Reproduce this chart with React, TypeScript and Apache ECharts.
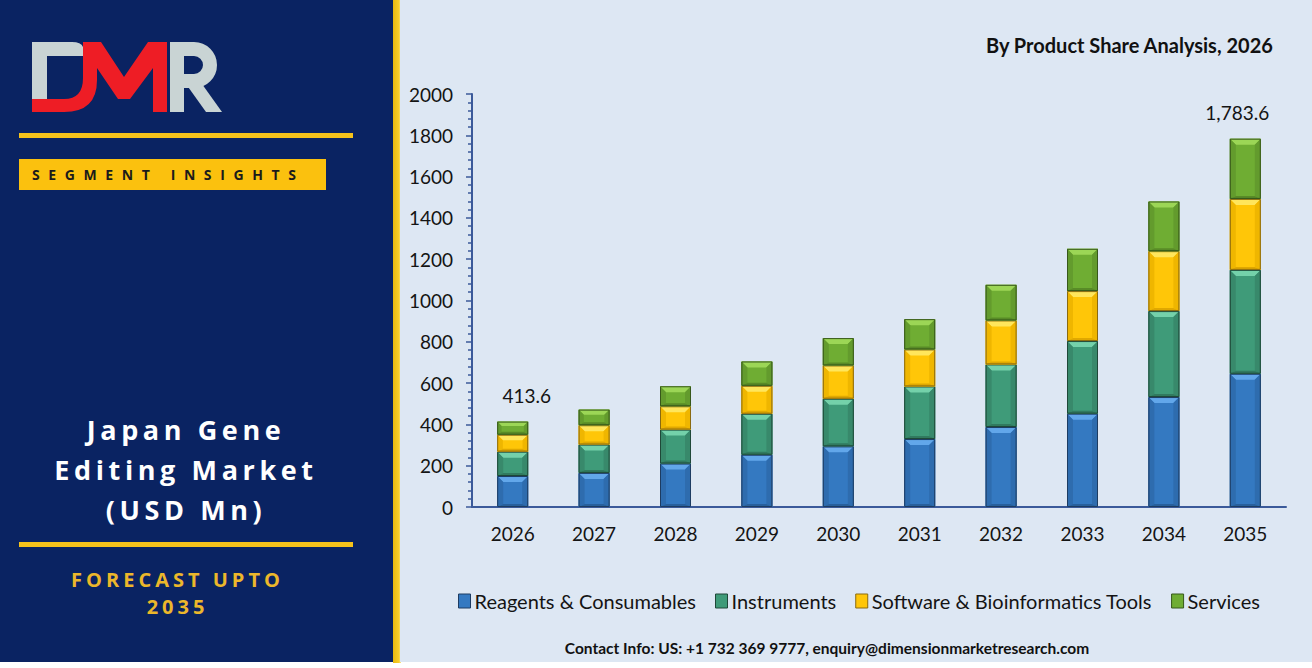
import React, { useEffect, useRef } from "react";
import * as echarts from "echarts";

// Japan gene editing market by product (USD Mn)
const years = ["2026", "2027", "2028", "2029", "2030", "2031", "2032", "2033", "2034", "2035"];
const reagents = [150.0, 165.2, 210.4, 253.1, 293.6, 329.0, 387.3, 452.0, 532.5, 645.2];
const instruments = [118.0, 137.1, 164.5, 198.4, 230.7, 254.9, 303.2, 351.6, 416.2, 503.1];
const software = [82.0, 93.6, 112.9, 135.5, 161.3, 179.0, 212.9, 241.9, 290.3, 343.6];
const services = [63.6, 75.8, 96.8, 117.7, 132.3, 146.8, 172.6, 204.8, 240.4, 291.7];
const segmentNames = ["Reagents & Consumables", "Instruments", "Software & Bioinformatics Tools", "Services"];
const yMin = 0;
const yMax = 2000;
const yStep = 200;
const labelledYears = [0, 9];

const segments = [reagents, instruments, software, services];

const palette = [
  { body: "#3479c1", light: "#62a7ea", side: "#2e6cae", dark: "#28609c", edge: "#1d3c62" },
  { body: "#3f9b79", light: "#74d1aa", side: "#38896b", dark: "#317a5f", edge: "#1f4838" },
  { body: "#ffc608", light: "#ffe65c", side: "#efb600", dark: "#e0a800", edge: "#8a6a10" },
  { body: "#6fad33", light: "#9cd656", side: "#639b2d", dark: "#588b27", edge: "#37581a" },
];

const totals = years.map((_, i) => segments.reduce((s, arr) => s + arr[i], 0));
const fmtTotal = (v: number) =>
  v.toLocaleString("en-US", { minimumFractionDigits: 1, maximumFractionDigits: 1 });

const NAVY = "#0a2362";
const GOLD = "#f5c21b";
const LOGO_GREY = "#c9d4d4";
const LOGO_RED = "#ee1d25";

function Logo() {
  return (
    <svg width={393} height={130} style={{ position: "absolute", left: 0, top: 0 }}>
      {/* D: grey stem and top bar */}
      <rect x={32} y={42} width={15} height={58} fill={LOGO_GREY} />
      <path d="M32 42 H72 Q81 42 83 47 V56 H32 Z" fill={LOGO_GREY} />
      {/* red sweep: base of the D flowing into the M */}
      <path
        d="M32 99 H64 Q83 99 83 78 V42 H101 L124 77 L148 42 H167 V112 H153 V68 L130 99 H118 L97 68 V80 Q97 112 64 112 H32 Z"
        fill={LOGO_RED}
      />
      {/* R */}
      <path d="M177 112 V49 H194 A 16 16 0 0 1 194 81 H184" fill="none" stroke={LOGO_GREY} strokeWidth={14} />
      <path d="M186 84 H202 L222 112 H206 Z" fill={LOGO_GREY} />
    </svg>
  );
}

function SidePanel() {
  const base: React.CSSProperties = { position: "absolute", fontFamily: "'Open Sans', sans-serif", fontWeight: 700 };
  return (
    <div style={{ position: "absolute", left: 0, top: 0, width: 393, height: 662, background: NAVY }}>
      <Logo />
      <div style={{ position: "absolute", left: 19, top: 133, width: 334, height: 5, background: GOLD }} />
      <div
        style={{
          position: "absolute",
          left: 19,
          top: 159,
          width: 307,
          height: 31,
          background: "#fbc10e",
        }}
      >
        <div
          style={{
            ...base,
            left: 13,
            top: 0,
            fontSize: 14,
            lineHeight: "31px",
            letterSpacing: "8.6px",
            color: "#1b1b1b",
            whiteSpace: "nowrap",
          }}
        >
          SEGMENT INSIGHTS
        </div>
      </div>
      <div
        style={{
          ...base,
          left: 2,
          top: 410,
          width: 368,
          textAlign: "center",
          color: "#ffffff",
          fontSize: 27,
          lineHeight: "40px",
          letterSpacing: "4.6px",
        }}
      >
        Japan Gene
        <br />
        Editing Market
        <br />
        (USD Mn)
      </div>
      <div style={{ position: "absolute", left: 19, top: 542, width: 334, height: 5, background: GOLD }} />
      <div
        style={{
          ...base,
          left: 0,
          top: 566,
          width: 355,
          textAlign: "center",
          color: "#ecb72b",
          fontSize: 20,
          lineHeight: "27px",
          letterSpacing: "4px",
        }}
      >
        FORECAST UPTO
        <br />
        2035
      </div>
    </div>
  );
}

export default function App() {
  const ref = useRef<HTMLDivElement>(null);

  useEffect(() => {
    if (!ref.current) return;
    const chart = echarts.init(ref.current, undefined, { renderer: "svg" });
    const axisColor = "#3b5a9a";
    const labelFont = { fontFamily: "Lato", fontSize: 19, color: "#141414" };

    const series = segments.map((arr, k) => {
      const data = arr.map((v, i) => {
        let lo = 0;
        for (let j = 0; j < k; j++) lo += segments[j][i];
        return [i, lo, lo + v];
      });
      const c = palette[k];
      return {
        type: "custom",
        name: segmentNames[k],
        itemStyle: { color: c.body, borderColor: c.edge, borderWidth: 1 },
        encode: { x: 0, y: [1, 2] },
        data,
        renderItem: (params: any, api: any) => {
          const i = api.value(0);
          const lo = api.value(1);
          const hi = api.value(2);
          const a = api.coord([i, lo]);
          const b = api.coord([i, hi]);
          const w = 31;
          const x0 = a[0] - w / 2;
          const x1 = x0 + w;
          const yT = b[1];
          const yB = a[1];
          const h = yB - yT;
          const bv = Math.min(6, h / 3);
          const bb = Math.min(3, h / 4);
          const children: any[] = [
            { type: "rect", shape: { x: x0, y: yT, width: w, height: h }, style: { fill: c.body } },
            {
              type: "polygon",
              shape: { points: [[x0, yT], [x1, yT], [x1 - bv, yT + bv], [x0 + bv, yT + bv]] },
              style: { fill: c.light },
            },
            {
              type: "polygon",
              shape: { points: [[x0, yT], [x0 + bv, yT + bv], [x0 + bv, yB - bb], [x0, yB]] },
              style: { fill: c.side },
            },
            {
              type: "polygon",
              shape: { points: [[x1, yT], [x1 - bv, yT + bv], [x1 - bv, yB - bb], [x1, yB]] },
              style: { fill: c.side },
            },
            {
              type: "polygon",
              shape: { points: [[x0, yB], [x0 + bv, yB - bb], [x1 - bv, yB - bb], [x1, yB]] },
              style: { fill: c.dark },
            },
            {
              type: "rect",
              shape: { x: x0 + 0.5, y: yT + 0.5, width: w - 1, height: h - 1 },
              style: { fill: "none", stroke: c.edge, lineWidth: 1 },
            },
          ];
          if (k === segments.length - 1 && labelledYears.indexOf(i) >= 0) {
            const shift = i === 0 ? 14 : -8;
            children.push({
              type: "text",
              x: a[0] + shift,
              y: yT - 26,
              style: {
                text: fmtTotal(totals[i]),
                fill: "#141414",
                fontFamily: "Lato",
                fontSize: 19,
                align: "center",
                verticalAlign: "middle",
              },
            });
          }
          return { type: "group", children };
        },
      };
    });

    chart.setOption({
      animation: false,
      backgroundColor: "#dde7f3",
      title: {
        text: "By Product Share Analysis, 2026",
        right: 33,
        top: 30,
        textStyle: { fontFamily: "Lato", fontSize: 20, fontWeight: "bold", color: "#111111" },
      },
      grid: { left: 72, right: 26, top: 94, bottom: 155 },
      legend: {
        left: 53,
        top: 586,
        icon: "rect",
        itemWidth: 12,
        itemHeight: 14,
        itemGap: 19,
        textStyle: { fontFamily: "Lato", fontSize: 20, color: "#141414", padding: [0, 0, 0, -1] },
        data: segmentNames.map((n, k) => ({
          name: n,
          itemStyle: { color: palette[k].body, borderColor: palette[k].edge, borderWidth: 1 },
        })),
      },
      xAxis: {
        type: "category",
        data: years,
        axisLine: { lineStyle: { color: axisColor, width: 2 } },
        axisTick: { show: false },
        axisLabel: { ...labelFont, margin: 17 },
      },
      yAxis: {
        type: "value",
        min: yMin,
        max: yMax,
        interval: yStep,
        axisLine: { show: true, lineStyle: { color: axisColor, width: 2 } },
        axisTick: { show: true, length: 6, lineStyle: { color: axisColor, width: 1.5 } },
        minorTick: { show: true, splitNumber: 5, length: 4, lineStyle: { color: axisColor, width: 1.5 } },
        splitLine: { show: false },
        axisLabel: { ...labelFont, margin: 19, formatter: (v: number) => String(v) },
      },
      graphic: [
        {
          type: "text",
          x: 427,
          y: 648,
          style: {
            text: "Contact Info: US: +1 732 369 9777, enquiry@dimensionmarketresearch.com",
            fontFamily: "Lato",
            fontWeight: "bold",
            fontSize: 15.5,
            fill: "#111111",
            align: "center",
            verticalAlign: "middle",
          },
        },
      ],
      series,
    });

    return () => chart.dispose();
  }, []);

  return (
    <div style={{ position: "fixed", left: 0, top: 0, width: 1312, height: 668, background: "#ffffff", overflow: "hidden" }}>
      <SidePanel />
      <div
        style={{
          position: "absolute",
          left: 393,
          top: 0,
          width: 8,
          height: 663,
          background: "linear-gradient(to right, #e9b80f, #f7cd2a 70%, #fbe38a)",
        }}
      />
      <div ref={ref} style={{ position: "absolute", left: 400, top: 0, width: 912, height: 662 }} />
    </div>
  );
}
